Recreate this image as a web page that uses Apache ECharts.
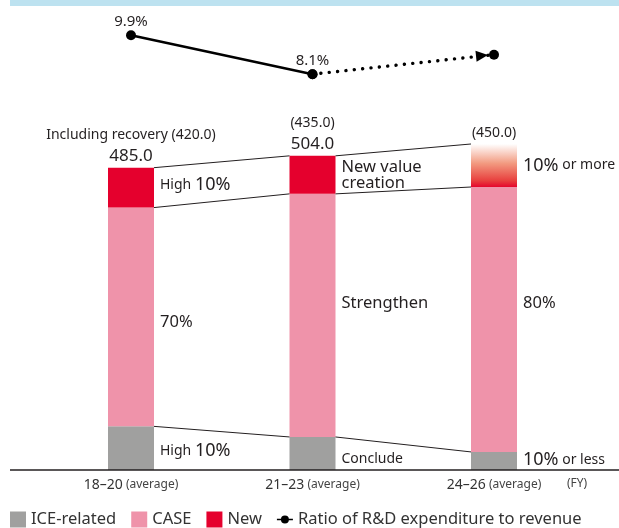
<!DOCTYPE html>
<html>
<head>
<meta charset="utf-8">
<script src="https://cdn.jsdelivr.net/npm/echarts@6/dist/echarts.min.js"></script>
<style>html,body{margin:0;padding:0;background:#fff;}#c{width:619px;height:528px;}</style>
</head>
<body>
<div id="c"></div>
<script>
// ---- data ----
const categories = ['18–20', '21–23', '24–26'];
const iceValues = [70, 53, 29];
const caseValues = [351, 390, 425];
const newValues = [64, 61, 69];
const ratioValues = [9.9, 8.1, 9.0];
const ratioLabels = ['9.9%', '8.1%', ''];
const totalLabels = ['485.0', '504.0', ''];
const noteLabels = ['Including recovery (420.0)', '(435.0)', '(450.0)'];
const iceLabels = ['High {n|10%}', 'Conclude', '{n|10%} or less'];
const caseLabels = ['70%', 'Strengthen', '80%'];
const newLabels = ['High {n|10%}', 'New value\ncreation', '{n|10%} or more'];

// ---- styling ----
const FONT = 'Noto Sans';
const TXT = '#231f20';
const iceOff = [3, 6, -1];
const caseOff = [5, -12, -16];
const newOff = [-3, 0, 0];
const iceSize = [14, 14, 14];
const caseSize = [16.5, 16.5, 16.5];
const newSize = [14, 16.5, 14];

const chart = echarts.init(document.getElementById('c'), null, {renderer: 'canvas'});

const richN = {n: {fontSize: 18, fontFamily: FONT, color: TXT}};

function segLabel(text, off, size) {
  return {show: true, position: 'right', distance: 6, formatter: text, offset: [0, off],
    fontSize: size, fontFamily: FONT, color: TXT, lineHeight: 16, rich: richN};
}

const iceData = iceValues.map((v, i) => ({value: v, label: segLabel(iceLabels[i], iceOff[i], iceSize[i])}));
const caseData = caseValues.map((v, i) => ({value: v, label: segLabel(caseLabels[i], caseOff[i], caseSize[i])}));
const newData = newValues.map((v, i) => {
  const item = {value: v, label: segLabel(newLabels[i], newOff[i], newSize[i])};
  if (i === 2) {
    item.itemStyle = {color: new echarts.graphic.LinearGradient(0, 0, 0, 1, [
      {offset: 0, color: '#ffffff'},
      {offset: 0.45, color: '#f29a80'},
      {offset: 0.85, color: '#e8403e'},
      {offset: 1, color: '#e5062d'}
    ])};
  }
  return item;
});

// top labels (zero-height bar on top of the stack)
const topData = newValues.map((v, i) => ({
  value: 0,
  label: {
    show: true, position: 'top', distance: 1,
    formatter: totalLabels[i] ? '{s|' + noteLabels[i] + '}\n{l|' + totalLabels[i] + '}' : '{s|' + noteLabels[i] + '}',
    rich: {
      s: {fontSize: 14, fontFamily: FONT, color: TXT, lineHeight: 19},
      l: {fontSize: 17, fontFamily: FONT, color: TXT, lineHeight: 22}
    }
  }
}));

// connectors between bar edges
const cum1 = iceValues;
const cum2 = iceValues.map((v, i) => v + caseValues[i]);
const cum3 = cum2.map((v, i) => v + newValues[i]);
const connData = [0, 1].map(i => [i, cum1[i], cum1[i + 1], cum2[i], cum2[i + 1], cum3[i], cum3[i + 1]]);

const gridL = 40.25, gridR = 34.25;
const lineIcon = 'path://M0,7.2H4.2V8.8H0Z M11.8,7.2H16V8.8H11.8Z M4,8A4,4 0 1,1 12,8A4,4 0 1,1 4,8Z';

const option = {
  animation: false,
  textStyle: {fontFamily: FONT},
  graphic: [
    {type: 'rect', shape: {x: 10, y: 0, width: 609, height: 6}, style: {fill: '#bde2f0'}},
    {type: 'line', shape: {x1: 10, y1: 470, x2: 619, y2: 470}, style: {stroke: '#231f20', lineWidth: 1.5}, z: 10},
    {type: 'text', x: 577, y: 484, style: {text: '(FY)', fontSize: 12, fontFamily: FONT, fill: '#444', align: 'center', verticalAlign: 'middle'}}
  ],
  legend: {
    left: 10, top: 511, itemWidth: 16, itemHeight: 16, itemGap: 15, padding: 0,
    textStyle: {fontSize: 16.5, fontFamily: FONT, color: '#333'},
    data: [
      {name: 'ICE-related', icon: 'rect'},
      {name: 'CASE', icon: 'rect'},
      {name: 'New', icon: 'rect'},
      {name: 'Ratio of R&D expenditure to revenue', icon: lineIcon}
    ]
  },
  grid: [
    {left: gridL, right: gridR, top: 96, bottom: 58},
    {left: gridL, right: gridR, top: 20, height: 78}
  ],
  xAxis: [
    {
      type: 'category', data: categories, gridIndex: 0,
      axisLine: {show: false}, axisTick: {show: false},
      axisLabel: {
        margin: 8,
        formatter: v => '{a|' + v + '} {b|(average)}',
        rich: {
          a: {fontSize: 14, fontFamily: FONT, color: '#333'},
          b: {fontSize: 12, fontFamily: FONT, color: '#444'}
        }
      }
    },
    {type: 'category', data: categories, gridIndex: 1, show: false}
  ],
  yAxis: [
    {type: 'value', gridIndex: 0, min: 0, max: 600, show: false},
    {type: 'value', gridIndex: 1, min: 7, max: 10.6, show: false}
  ],
  series: [
    {name: 'ICE-related', type: 'bar', stack: 't', barWidth: 46, itemStyle: {color: '#a0a09f'}, data: iceData},
    {name: 'CASE', type: 'bar', stack: 't', barWidth: 46, itemStyle: {color: '#ef93aa'}, data: caseData},
    {name: 'New', type: 'bar', stack: 't', barWidth: 46, itemStyle: {color: '#e5002d'}, data: newData},
    {name: 'top', type: 'bar', stack: 't', barWidth: 46, itemStyle: {color: 'transparent'}, data: topData, silent: true},
    {
      name: 'conn', type: 'custom', xAxisIndex: 0, yAxisIndex: 0, z: 5, silent: true,
      data: connData,
      renderItem: function (params, api) {
        const i = api.value(0);
        const hw = 23;
        const ch = [];
        [1, 3, 5].forEach(k => {
          const p1 = api.coord([i, api.value(k)]);
          const p2 = api.coord([i + 1, api.value(k + 1)]);
          ch.push({type: 'line', shape: {x1: p1[0] + hw, y1: p1[1], x2: p2[0] - hw, y2: p2[1]},
            style: {stroke: '#231f20', lineWidth: 1}});
        });
        return {type: 'group', children: ch};
      }
    },
    {
      name: 'Ratio of R&D expenditure to revenue', type: 'line', xAxisIndex: 1, yAxisIndex: 1,
      data: ratioValues.map((v, i) => i < 2 ? v : '-'),
      symbol: 'circle', symbolSize: 10, z: 4,
      itemStyle: {color: '#000'}, lineStyle: {color: '#000', width: 2.5},
      label: {show: true, position: 'top', distance: 1, fontSize: 15, fontFamily: FONT, color: TXT,
        formatter: p => ratioLabels[p.dataIndex]}
    },
    {
      name: 'dotted', type: 'line', xAxisIndex: 1, yAxisIndex: 1,
      data: ratioValues.map((v, i) => i >= 1 ? v : '-'),
      symbol: 'circle', symbolSize: 10, showSymbol: true, z: 3,
      itemStyle: {color: '#000'},
      lineStyle: {color: '#000', width: 3.4, type: [0.1, 8.3], cap: 'round'}
    },
    {
      name: 'arrow', type: 'scatter', xAxisIndex: 1, yAxisIndex: 1,
      data: [[2, ratioValues[2]]],
      symbol: 'triangle', symbolSize: [11, 12], symbolRotate: -84, symbolOffset: [-12, 1],
      itemStyle: {color: '#000', opacity: 1}, z: 6
    }
  ]
};
chart.setOption(option);
</script>
</body>
</html>
